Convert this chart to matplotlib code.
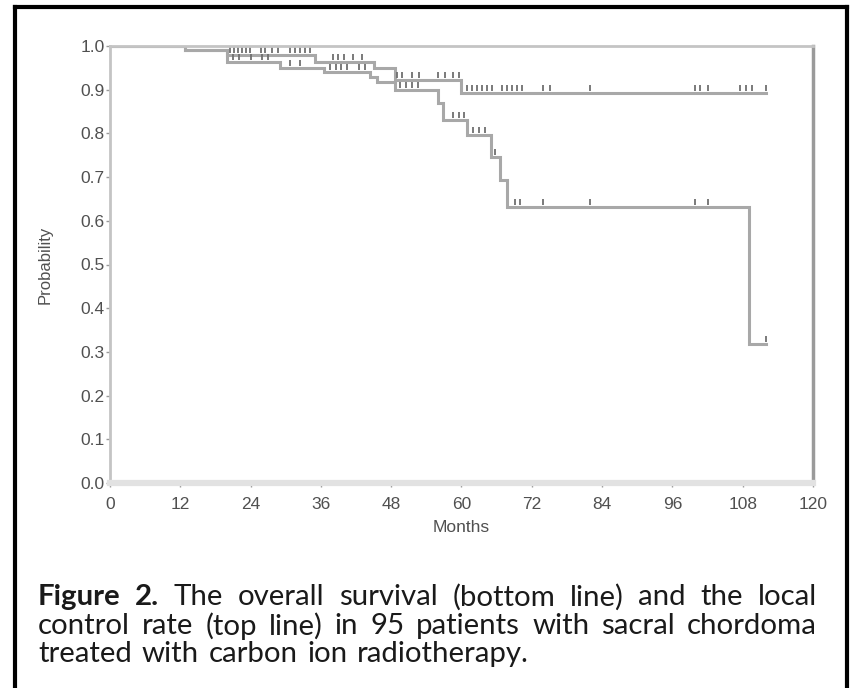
import matplotlib
matplotlib.use('Agg')
import matplotlib.pyplot as plt
import numpy as np
from matplotlib.lines import Line2D

# local control (top line): step times and probabilities after each step
lc_times = [0, 12.8, 20, 35, 45, 48.6, 60, 112]
lc_prob = [1.0, 0.99, 0.979, 0.963, 0.95, 0.922, 0.892, 0.892]
lc_censor = [20.5, 21.2, 21.8, 22.5, 23.2, 23.9, 25.8, 26.4, 27.6, 28.7, 30.7, 31.6, 32.4, 33.3, 34.1,
             38, 39, 40, 41.5, 43, 49.0, 49.8, 51.5, 52.8, 56.0, 57.2, 58.5, 59.5,
             60.9, 61.8, 62.6, 63.5, 64.3, 65.2, 66.9, 67.7, 68.6, 69.5, 70.3, 73.9, 75.1,
             81.9, 99.8, 100.7, 102.0, 107.5, 108.5, 109.6, 112]

# overall survival (bottom line)
os_times = [0, 12.8, 20, 29, 36.5, 44.4, 45.5, 48.6, 56, 56.8, 61, 65, 66.5, 67.8, 109, 112]
os_prob = [1.0, 0.99, 0.963, 0.95, 0.94, 0.93, 0.918, 0.899, 0.87, 0.83, 0.796, 0.746, 0.693, 0.632,
           0.318, 0.318]
os_censor = [21, 22, 24, 26, 27, 30.7, 32.4, 37.5, 38.5, 39.5, 40.5, 42.5, 43.5,
             49.5, 50.5, 51.5, 52.5, 58.5, 59.5, 60.5, 62, 63, 64, 65.8,
             69.1, 70, 73.9, 81.9, 99.8, 102, 112]

x_ticks = [0, 12, 24, 36, 48, 60, 72, 84, 96, 108, 120]
y_ticks = [0.0, 0.1, 0.2, 0.3, 0.4, 0.5, 0.6, 0.7, 0.8, 0.9, 1.0]

caption = [
    "Figure 2. The overall survival (bottom line) and the local",
    "control rate (top line) in 95 patients with sacral chordoma",
    "treated with carbon ion radiotherapy.",
]

W, H = 853, 688
fig = plt.figure(figsize=(W / 100, H / 100), dpi=100)
plt.rcParams['font.family'] = ['Liberation Sans', 'DejaVu Sans']

ax = fig.add_axes([110 / W, 1 - 483 / H, 703 / W, 437 / H])


def prob_at(times, probs, t):
    i = np.searchsorted(times, t, side='right') - 1
    return np.array(probs)[i]


for times, probs, cens in [(lc_times, lc_prob, lc_censor), (os_times, os_prob, os_censor)]:
    ax.step(times, probs, where='post', color='#a8a8a8', lw=2.2, solid_joinstyle='miter')
    cy = prob_at(times, probs, np.array(cens)) + 0.011
    ax.plot(cens, cy, ls='none', marker='|', ms=5, mew=1.3, color='#707070')

ax.set_xlim(0, 120)
ax.set_ylim(0, 1.0)
ax.set_xticks(x_ticks)
ax.set_yticks(y_ticks)
ax.set_xticklabels([str(v) for v in x_ticks])
ax.set_yticklabels(['%.1f' % v for v in y_ticks])
ax.tick_params(axis='both', colors='#9a9a9a', labelcolor='#505050', labelsize=12.5, length=3, width=1)
ax.tick_params(axis='x', pad=7)
ax.tick_params(axis='y', pad=1)

ax.spines['top'].set_color('#c4c4c4')
ax.spines['top'].set_linewidth(2)
ax.spines['left'].set_color('#c4c4c4')
ax.spines['left'].set_linewidth(2)
ax.spines['bottom'].set_color('#e2e2e2')
ax.spines['bottom'].set_linewidth(4.5)
ax.spines['right'].set_color('#9a9a9a')
ax.spines['right'].set_linewidth(2.5)

ax.set_xlabel('Months', fontsize=12.5, color='#505050', labelpad=6)
ax.set_ylabel('Probability', fontsize=12, color='#505050', labelpad=20)


def px_line(xa, ya, xb, yb):
    fig.add_artist(Line2D([xa / W, xb / W], [1 - ya / H, 1 - yb / H],
                          transform=fig.transFigure, color='black', lw=3, solid_capstyle='projecting'))


# outer frame (left, top, right)
px_line(15, 7, 15, H + 5)
px_line(15, 7, 847, 7)
px_line(847, 7, 847, H + 5)

# justified caption
renderer = fig.canvas.get_renderer()
cap_font = ['Lato', 'DejaVu Sans']
x0, x1 = 38, 817
line_y = [597, 626, 654]


def word_list(line, li):
    out = []
    for k, w in enumerate(line.split(' ')):
        bold = li == 0 and k < 2
        out.append((w, bold))
    return out


def measure(words, fs):
    ws = []
    for w, b in words:
        t = fig.text(0, 0, w, fontsize=fs, family=cap_font, fontweight='bold' if b else 'normal')
        ws.append(t.get_window_extent(renderer).width)
        t.remove()
    sp = fig.text(0, 0, 'a a', fontsize=fs, family=cap_font)
    sa = fig.text(0, 0, 'aa', fontsize=fs, family=cap_font)
    space = sp.get_window_extent(renderer).width - sa.get_window_extent(renderer).width
    sp.remove()
    sa.remove()
    return ws, space


# pick a font size so the fullest line just fills the width
fs = 10
ws, space = measure(word_list(caption[1], 1), fs)
nat = sum(ws) + space * (len(ws) - 1)
fs = fs * (x1 - x0) / nat * 0.95

for li, line in enumerate(caption):
    words = word_list(line, li)
    ws, space = measure(words, fs)
    if li < len(caption) - 1:
        gap = (x1 - x0 - sum(ws)) / (len(ws) - 1)
    else:
        gap = space * 1.3
    x = x0
    for (w, b), wd in zip(words, ws):
        fig.text(x / W, 1 - line_y[li] / H, w, fontsize=fs, family=cap_font,
                 fontweight='bold' if b else 'normal', color='#1a1a1a', va='center', ha='left')
        x += wd + gap

fig.savefig('out.png', dpi=100)
